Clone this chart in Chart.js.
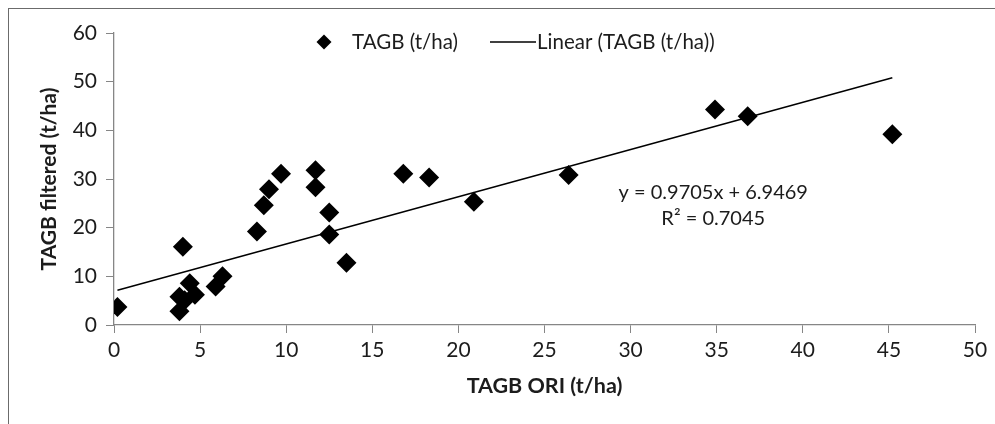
<!DOCTYPE html>
<html>
<head>
<meta charset="utf-8">
<script src="https://cdn.jsdelivr.net/npm/chart.js@4.4.0/dist/chart.umd.min.js"></script>
<style>
  html, body { margin: 0; padding: 0; background: #fff; }
  #wrap { position: relative; width: 995px; height: 424px; overflow: hidden; }
  #frame { position: absolute; left: 8px; top: 8px; width: 1000px; height: 430px;
           border-left: 1.5px solid #6b6b6b; border-top: 1.5px solid #6b6b6b; }
  canvas { position: absolute; left: 0; top: 0; }
</style>
</head>
<body>
<div id="wrap">
  <div id="frame"></div>
  <canvas id="c" width="995" height="424"></canvas>
</div>
<script>
// ====== данные ======
const tagbOri = [0.2, 4.0, 3.8, 3.8, 4.1, 4.4, 4.7, 5.9, 6.3, 8.3, 8.7, 9.0, 9.7,
                 11.7, 11.7, 12.5, 12.5, 13.5, 16.8, 18.3, 20.9, 26.4, 34.9, 36.8, 45.2];
const tagbFiltered = [3.7, 16.1, 2.8, 5.8, 5.1, 8.6, 6.2, 7.9, 10.0, 19.2, 24.6, 27.9, 31.1,
                      31.8, 28.3, 23.1, 18.6, 12.8, 31.1, 30.3, 25.3, 30.8, 44.3, 42.9, 39.2];
const xTicks = [0, 5, 10, 15, 20, 25, 30, 35, 40, 45, 50];
const yTicks = [0, 10, 20, 30, 40, 50, 60];

// линейный тренд (Excel)
const slope = 0.9705;
const intercept = 6.9469;
const r2 = 0.7045;

const FONT = 'Lato, "Open Sans", sans-serif';
const TEXT = '#1c1c1c';
const AXIS = '#868686';

const points = tagbOri.map((x, i) => ({ x, y: tagbFiltered[i] }));
const xMin = Math.min(...tagbOri), xMax = Math.max(...tagbOri);
const trend = [xMin, xMax].map(x => ({ x, y: slope * x + intercept }));

// легенда + подпись уравнения
const overlay = {
  id: 'overlay',
  afterDraw(chart) {
    const ctx = chart.ctx;
    const a = chart.chartArea;
    ctx.save();
    ctx.font = `20.5px ${FONT}`;
    ctx.textBaseline = 'middle';
    // легенда
    const ly = 42;
    ctx.fillStyle = '#000';
    ctx.beginPath();
    ctx.moveTo(324, ly - 7.5); ctx.lineTo(331.5, ly); ctx.lineTo(324, ly + 7.5); ctx.lineTo(316.5, ly);
    ctx.closePath(); ctx.fill();
    ctx.fillStyle = TEXT;
    ctx.textAlign = 'left';
    ctx.fillText(chart.data.datasets[0].label, 352, ly);
    ctx.strokeStyle = '#000'; ctx.lineWidth = 1.3;
    ctx.beginPath(); ctx.moveTo(490, ly); ctx.lineTo(536, ly); ctx.stroke();
    ctx.fillText(chart.data.datasets[1].label, 537, ly);
    // уравнение
    ctx.font = `20px ${FONT}`;
    ctx.textAlign = 'center';
    const cx = a.left + (a.right - a.left) * 0.696;
    ctx.fillText(`y = ${slope}x + ${intercept}`, cx, 193);
    ctx.fillText(`R² = ${r2}`, cx, 219);
    ctx.restore();
  }
};

new Chart(document.getElementById('c'), {
  type: 'scatter',
  data: {
    datasets: [
      {
        label: 'TAGB (t/ha)',
        data: points,
        pointStyle: 'rectRot',
        pointRadius: 10,
        backgroundColor: '#000',
        borderColor: '#000',
        borderWidth: 0
      },
      {
        label: 'Linear (TAGB (t/ha))',
        data: trend,
        showLine: true,
        pointRadius: 0,
        borderColor: '#000',
        borderWidth: 1.5
      }
    ]
  },
  options: {
    responsive: false,
    animation: false,
    layout: { padding: { left: 0, right: 20, top: 33, bottom: 0 } },
    plugins: { legend: { display: false }, tooltip: { enabled: false } },
    scales: {
      x: {
        type: 'linear', min: 0, max: 50,
        afterBuildTicks: s => { s.ticks = xTicks.map(v => ({ value: v })); },
        afterFit: s => { s.height = 99; },
        grid: { drawOnChartArea: false, drawTicks: true, tickLength: 8, color: AXIS },
        border: { color: AXIS, width: 1.3 },
        ticks: { color: TEXT, font: { family: FONT, size: 21 }, padding: 5, maxRotation: 0 },
        title: { display: true, text: 'TAGB ORI (t/ha)', color: TEXT,
                 font: { family: FONT, size: 21.5, weight: 'bold' }, padding: { top: 0, bottom: 25 } }
      },
      y: {
        type: 'linear', min: 0, max: 60,
        afterBuildTicks: s => { s.ticks = yTicks.map(v => ({ value: v })); },
        afterFit: s => { s.width = 114; },
        grid: { drawOnChartArea: false, drawTicks: true, tickLength: 8, color: AXIS },
        border: { color: AXIS, width: 1.3 },
        ticks: { color: TEXT, font: { family: FONT, size: 21 }, padding: 9 },
        title: { display: true, text: 'TAGB filtered (t/ha)', color: TEXT,
                 font: { family: FONT, size: 21, weight: 'bold' }, padding: { top: 37, bottom: 0 } }
      }
    }
  },
  plugins: [overlay]
});
</script>
</body>
</html>
